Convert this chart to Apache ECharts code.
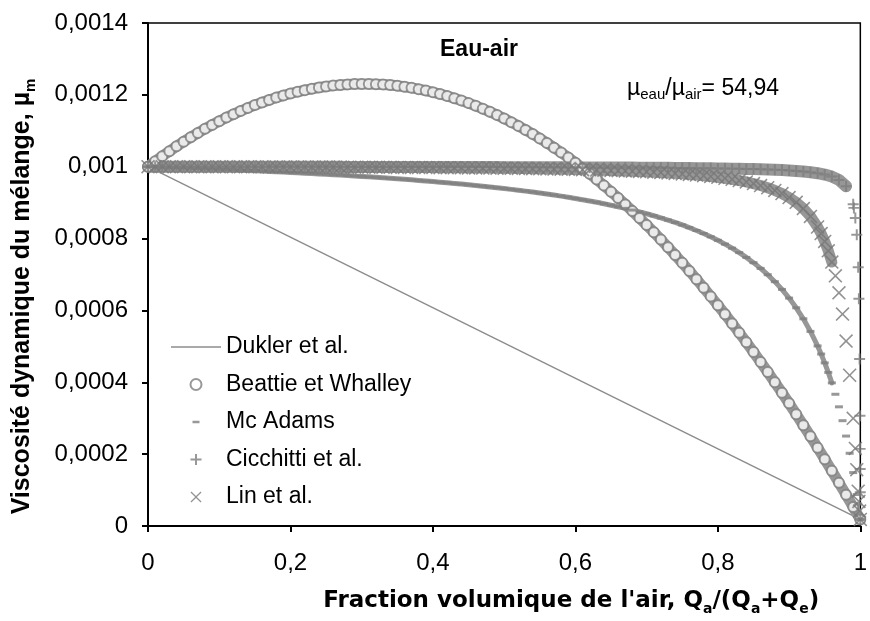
<!DOCTYPE html>
<html>
<head>
<meta charset="utf-8">
<script src="https://cdn.jsdelivr.net/npm/echarts@6/dist/echarts.min.js"></script>
<style>
html,body{margin:0;padding:0;background:#fff;}
#chart{width:870px;height:621px;}
</style>
</head>
<body>
<div id="chart"></div>
<script>
// ---- DATA (x = fraction volumique de l'air, y = viscosité du mélange) ----
const alpha = [0,0.01,0.02,0.03,0.04,0.05,0.06,0.07,0.08,0.09,0.10,0.11,0.12,0.13,0.14,0.15,0.16,0.17,0.18,0.19,0.20,0.21,0.22,0.23,0.24,0.25,0.26,0.27,0.28,0.29,0.30,0.31,0.32,0.33,0.34,0.35,0.36,0.37,0.38,0.39,0.40,0.41,0.42,0.43,0.44,0.45,0.46,0.47,0.48,0.49,0.50,0.51,0.52,0.53,0.54,0.55,0.56,0.57,0.58,0.59,0.60,0.61,0.62,0.63,0.64,0.65,0.66,0.67,0.68,0.69,0.70,0.71,0.72,0.73,0.74,0.75,0.76,0.77,0.78,0.79,0.80,0.81,0.82,0.83,0.84,0.85,0.86,0.87,0.88,0.89,0.90,0.91,0.92,0.93,0.94,0.95,0.96,0.97,0.98,0.99,1.00];

const duklerAlpha = [0, 1];
const dukler = [0.0010000, 0.0000182];

const beattie = [0.0010000,0.0010149,0.0010294,0.0010433,0.0010567,0.0010697,0.0010821,0.0010940,0.0011055,0.0011164,0.0011268,0.0011368,0.0011462,0.0011551,0.0011635,0.0011715,0.0011789,0.0011858,0.0011923,0.0011982,0.0012036,0.0012086,0.0012130,0.0012169,0.0012204,0.0012233,0.0012257,0.0012277,0.0012291,0.0012300,0.0012305,0.0012304,0.0012298,0.0012288,0.0012272,0.0012251,0.0012226,0.0012195,0.0012159,0.0012119,0.0012073,0.0012022,0.0011966,0.0011906,0.0011840,0.0011770,0.0011694,0.0011613,0.0011527,0.0011437,0.0011341,0.0011240,0.0011135,0.0011024,0.0010908,0.0010788,0.0010662,0.0010531,0.0010396,0.0010255,0.0010109,0.0009959,0.0009803,0.0009642,0.0009476,0.0009306,0.0009130,0.0008950,0.0008764,0.0008573,0.0008377,0.0008177,0.0007971,0.0007760,0.0007545,0.0007324,0.0007098,0.0006868,0.0006632,0.0006391,0.0006146,0.0005895,0.0005639,0.0005379,0.0005113,0.0004842,0.0004567,0.0004286,0.0004000,0.0003710,0.0003414,0.0003113,0.0002807,0.0002497,0.0002181,0.0001860,0.0001535,0.0001204,0.0000868,0.0000528,0.0000182];

const mcAdamsTailAlpha = [0.945,0.95,0.955,0.96,0.965,0.97,0.975,0.98,0.985,0.99,0.995,0.997,1.0];
const mcAdams = [0.0010000,0.00099935,0.00099868,0.00099800,0.00099731,0.00099661,0.00099589,0.00099515,0.00099440,0.00099364,0.00099286,0.00099206,0.00099125,0.00099042,0.00098958,0.00098871,0.00098782,0.00098692,0.00098600,0.00098505,0.00098408,0.00098309,0.00098208,0.00098104,0.00097998,0.00097889,0.00097777,0.00097663,0.00097546,0.00097426,0.00097302,0.00097175,0.00097046,0.00096912,0.00096775,0.00096634,0.00096489,0.00096340,0.00096187,0.00096029,0.00095866,0.00095699,0.00095526,0.00095348,0.00095165,0.00094975,0.00094779,0.00094577,0.00094368,0.00094152,0.00093928,0.00093695,0.00093455,0.00093206,0.00092947,0.00092679,0.00092400,0.00092109,0.00091808,0.00091493,0.00091164,0.00090823,0.00090465,0.00090091,0.00089700,0.00089290,0.00088860,0.00088409,0.00087935,0.00087438,0.00086911,0.00086355,0.00085769,0.00085147,0.00084488,0.00083788,0.00083043,0.00082249,0.00081399,0.00080489,0.00079511,0.00078459,0.00077324,0.00076095,0.00074756,0.00073297,0.00071700,0.00069943,0.00068003,0.00065847,0.00063439,0.00060730,0.00057662,0.00054158,0.00050117,
  0.00047854,0.00045404,0.00042744,0.00039841,0.00036664,0.00033170,0.00029313,0.00025028,0.00020243,0.00014863,0.00008774,0.00006106,0.0000182];

const cicchittiTailAlpha = [0.991,0.993,0.995,0.997,0.998,0.999,0.9995,0.9997,0.9998,0.9999,1.0];
const cicchitti = [0.0010000,0.00099999,0.00099998,0.00099996,0.00099995,0.00099994,0.00099992,0.00099991,0.00099990,0.00099988,0.00099987,0.00099985,0.00099984,0.00099982,0.00099981,0.00099979,0.00099978,0.00099976,0.00099974,0.00099972,0.00099971,0.00099969,0.00099967,0.00099965,0.00099963,0.00099961,0.00099959,0.00099956,0.00099954,0.00099952,0.00099950,0.00099947,0.00099945,0.00099942,0.00099939,0.00099937,0.00099934,0.00099931,0.00099928,0.00099925,0.00099922,0.00099918,0.00099915,0.00099911,0.00099908,0.00099904,0.00099900,0.00099896,0.00099891,0.00099887,0.00099882,0.00099878,0.00099873,0.00099867,0.00099862,0.00099856,0.00099850,0.00099844,0.00099838,0.00099831,0.00099824,0.00099816,0.00099808,0.00099800,0.00099791,0.00099782,0.00099772,0.00099761,0.00099750,0.00099738,0.00099726,0.00099712,0.00099698,0.00099682,0.00099666,0.00099648,0.00099628,0.00099607,0.00099584,0.00099559,0.00099531,0.00099500,0.00099466,0.00099428,0.00099385,0.00099337,0.00099282,0.00099218,0.00099144,0.00099056,0.00098951,0.00098823,0.00098664,0.00098459,0.00098188,0.00097811,0.00097252,0.00096333,0.00094548,0.00089574,
  0.00088542,0.00085715,0.00081074,0.00072009,0.00063229,0.00046471,0.00030706,0.00021464,0.00015851,0.00009382,0.0000182];

const linTailAlpha = [0.945,0.95,0.955,0.96,0.965,0.97,0.975,0.98,0.985,0.99,0.993,0.995,0.997,0.998,0.999,1.0];
const lin = [0.0010000,0.00099999,0.00099998,0.00099997,0.00099995,0.00099993,0.00099991,0.00099988,0.00099986,0.00099983,0.00099980,0.00099976,0.00099973,0.00099969,0.00099965,0.00099961,0.00099957,0.00099952,0.00099947,0.00099942,0.00099937,0.00099931,0.00099925,0.00099919,0.00099913,0.00099906,0.00099898,0.00099891,0.00099883,0.00099875,0.00099866,0.00099857,0.00099847,0.00099837,0.00099827,0.00099816,0.00099804,0.00099792,0.00099779,0.00099766,0.00099751,0.00099737,0.00099721,0.00099705,0.00099687,0.00099670,0.00099650,0.00099630,0.00099609,0.00099587,0.00099563,0.00099538,0.00099512,0.00099484,0.00099454,0.00099422,0.00099389,0.00099354,0.00099316,0.00099276,0.00099233,0.00099187,0.00099139,0.00099086,0.00099030,0.00098970,0.00098904,0.00098834,0.00098759,0.00098677,0.00098588,0.00098491,0.00098386,0.00098270,0.00098145,0.00098005,0.00097853,0.00097685,0.00097497,0.00097286,0.00097051,0.00096789,0.00096485,0.00096151,0.00095751,0.00095296,0.00094769,0.00094146,0.00093406,0.00092515,0.00091426,0.00090075,0.00088368,0.00086156,0.00083222,
  0.00081377,0.00079197,0.00076595,0.00073465,0.00069628,0.00064892,0.00058972,0.00051478,0.00041957,0.00029977,0.00021596,0.00015671,0.00009702,0.00006831,0.00004156,0.0000182];

// ---- helpers ----
function pairs(xs, ys) { return xs.map((x, i) => [x, ys[i]]); }
const mcAdamsAlpha = alpha.slice(0, 95).concat(mcAdamsTailAlpha);
const linAlpha = alpha.slice(0, 95).concat(linTailAlpha);
const cicchittiAlpha = alpha.slice(0, 100).concat(cicchittiTailAlpha);

const beattiePts = pairs(alpha, beattie);
const mcAdamsPts = pairs(mcAdamsAlpha, mcAdams);
const linPts = pairs(linAlpha, lin);
const cicchittiPts = pairs(cicchittiAlpha, cicchitti);

function fmt(v, d) {
  let s = v.toFixed(d);
  if (s.indexOf('.') >= 0) s = s.replace(/0+$/, '').replace(/\.$/, '');
  return s.replace('.', ',');
}

const FONT = '"Liberation Sans", Arial, sans-serif';
const MARK = '#7e7e7e';
const BAND = '#979797';
const PLUS = 'path://M4.1,0h1.8v4.1h4.1v1.8h-4.1v4.1h-1.8v-4.1h-4.1v-1.8h4.1z';
const CROSS = 'path://M0.8,0L5,4.2L9.2,0L10,0.8L5.8,5L10,9.2L9.2,10L5,5.8L0.8,10L0,9.2L4.2,5L0,0.8z';
const DASH = 'path://M0,0h0.01v0.01h-0.01zM2,4.3h7v2.4h-7zM10.99,10.99h0.01v0.01h-0.01z';
const HLINE = 'path://M0,0h50v1.4h-50z';

function band(name, pts, width) {
  return {
    name: name + ' (bande)', type: 'line', data: pts, symbol: 'none', silent: true,
    lineStyle: { color: BAND, width: width, cap: 'round', join: 'round' }, z: 2
  };
}

const chart = echarts.init(document.getElementById('chart'), null, { renderer: 'canvas' });

chart.setOption({
  animation: false,
  backgroundColor: '#fff',
  textStyle: { fontFamily: FONT },
  grid: {
    left: 148, right: 4, top: 23, bottom: 95,
    show: true, borderColor: '#000', borderWidth: 1.5, backgroundColor: 'transparent'
  },
  xAxis: {
    type: 'value', min: 0, max: 1, interval: 0.2,
    name: "Fraction volumique de l'air, Q{s|a}/(Q{s|a}+Q{s|e})",
    nameLocation: 'middle', nameGap: 60,
    nameTextStyle: {
      fontFamily: '"DejaVu Sans", sans-serif', fontSize: 23, fontWeight: 'bold', color: '#000',
      padding: [0, 0, 0, 134],
      rich: { s: { fontFamily: '"DejaVu Sans", sans-serif', fontSize: 14, fontWeight: 'bold', verticalAlign: 'bottom', padding: [16, 0, 0, 0] } }
    },
    axisLine: { show: true, onZero: false, lineStyle: { color: '#000', width: 2 } },
    axisTick: { show: true, inside: false, length: 6, lineStyle: { color: '#000', width: 2 } },
    axisLabel: { margin: 25, fontSize: 24, color: '#000', fontFamily: FONT, formatter: v => fmt(v, 1) },
    splitLine: { show: false }
  },
  yAxis: {
    type: 'value', min: 0, max: 0.0014, interval: 0.0002,
    name: 'Viscosité dynamique du mélange, µ{s|m}',
    nameLocation: 'middle', nameGap: 110, nameRotate: 90,
    nameTextStyle: {
      fontFamily: FONT, fontSize: 25, fontWeight: 'bold', color: '#000',
      padding: [0, 44, 0, 0],
      rich: { s: { fontFamily: FONT, fontSize: 15, fontWeight: 'bold', verticalAlign: 'bottom', padding: [17, 0, 0, 0] } }
    },
    axisLine: { show: true, onZero: false, lineStyle: { color: '#000', width: 2 } },
    axisTick: { show: true, inside: false, length: 6, lineStyle: { color: '#000', width: 2 } },
    axisLabel: { margin: 20, fontSize: 24, color: '#000', fontFamily: FONT, formatter: v => fmt(v, 4) },
    splitLine: { show: false }
  },
  legend: {
    orient: 'vertical', left: 166, top: 330,
    itemWidth: 50, itemHeight: 11, itemGap: 13.5,
    textStyle: { fontFamily: FONT, fontSize: 23, color: '#000', lineHeight: 24 },
    data: [
      { name: 'Dukler et al.', icon: HLINE },
      { name: 'Beattie et Whalley' },
      { name: 'Mc Adams', icon: DASH },
      { name: 'Cicchitti et al.' },
      { name: 'Lin et al.' }
    ]
  },
  graphic: [
    { type: 'text', left: 440, top: 38, style: { text: 'Eau-air', font: 'bold 23px ' + FONT, fill: '#000' } },
    { type: 'text', left: 627, top: 77, style: {
        text: 'µ{s|eau}/µ{s|air}= 54,94', font: '23px ' + FONT, fill: '#000',
        rich: { s: { font: '15px ' + FONT, fill: '#000', verticalAlign: 'bottom', padding: [13, 0, 0, 0] } }
      } }
  ],
  series: [
    {
      name: 'Dukler et al.', type: 'line', data: pairs(duklerAlpha, dukler),
      symbol: 'none', lineStyle: { color: '#8c8c8c', width: 1.4 }, itemStyle: { color: '#8c8c8c' }, z: 2
    },
    band('Beattie et Whalley', beattiePts, 11),
    band('Mc Adams', mcAdamsPts.filter(p => p[0] <= 0.96), 5),
    band('Cicchitti et al.', cicchittiPts.filter(p => p[0] <= 0.98), 12),
    band('Lin et al.', linPts.filter(p => p[0] <= 0.96), 11),
    {
      name: 'Beattie et Whalley', type: 'scatter', data: beattiePts,
      symbol: 'emptyCircle', symbolSize: 10,
      itemStyle: { color: MARK, borderColor: MARK, borderWidth: 2 }, z: 3
    },
    {
      name: 'Mc Adams', type: 'scatter', data: mcAdamsPts,
      symbol: 'rect', symbolSize: [8, 3],
      itemStyle: { color: MARK }, z: 3
    },
    {
      name: 'Cicchitti et al.', type: 'scatter', data: cicchittiPts,
      symbol: PLUS, symbolSize: 11, symbolKeepAspect: true,
      itemStyle: { color: MARK }, z: 3
    },
    {
      name: 'Lin et al.', type: 'scatter', data: linPts,
      symbol: CROSS, symbolSize: 14, symbolKeepAspect: true,
      itemStyle: { color: '#777777' }, z: 3
    }
  ]
});
</script>
</body>
</html>
